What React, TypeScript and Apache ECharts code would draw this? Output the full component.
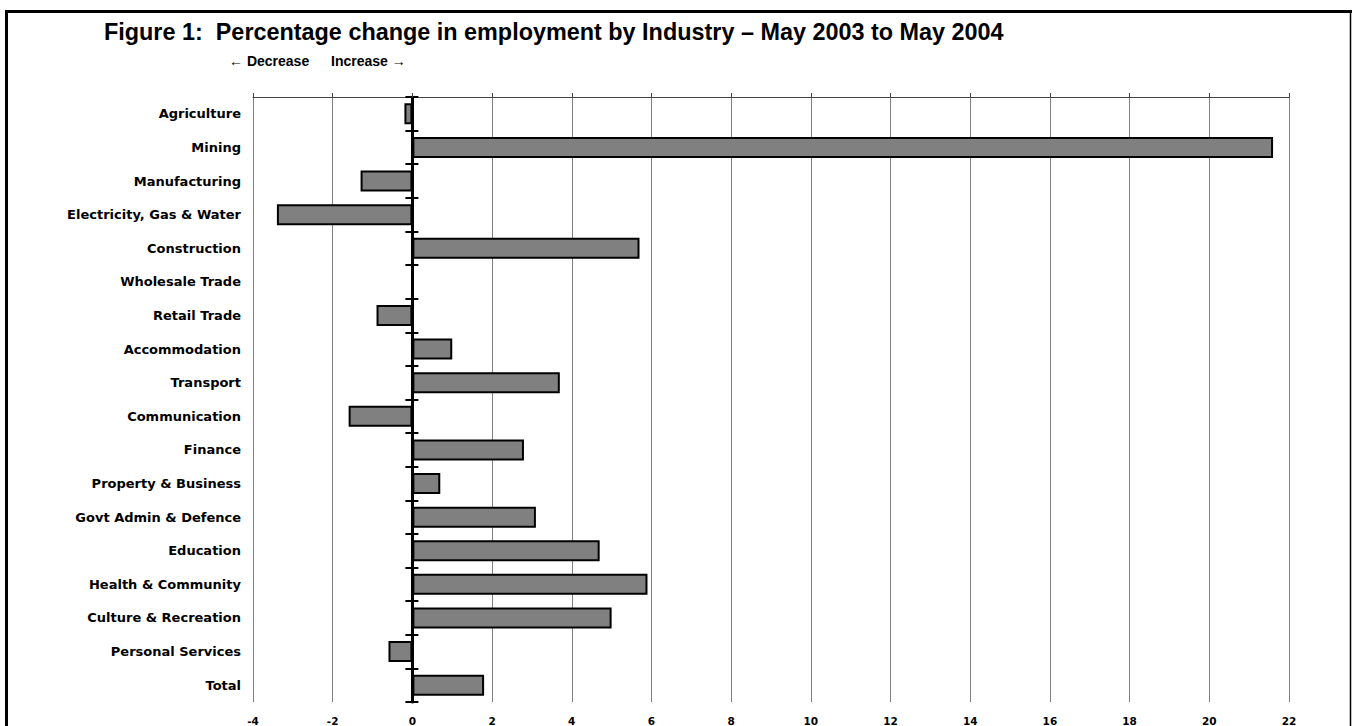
import React, { useEffect, useRef } from "react";
import * as echarts from "echarts";

const categories: string[] = [
  "Agriculture",
  "Mining",
  "Manufacturing",
  "Electricity, Gas & Water",
  "Construction",
  "Wholesale Trade",
  "Retail Trade",
  "Accommodation",
  "Transport",
  "Communication",
  "Finance",
  "Property & Business",
  "Govt Admin & Defence",
  "Education",
  "Health & Community",
  "Culture & Recreation",
  "Personal Services",
  "Total",
];

const changeValues: number[] = [
  -0.2, 21.6, -1.3, -3.4, 5.7, 0, -0.9, 1.0, 3.7, -1.6, 2.8, 0.7, 3.1, 4.7, 5.9, 5.0, -0.6, 1.8,
];

const xMin = -4;
const xMax = 22;
const xInterval = 2;

const titleText = "Figure 1:  Percentage change in employment by Industry \u2013 May 2003 to May 2004";
const decreaseText = "\u2190 Decrease";
const increaseText = "Increase \u2192";

const FONT = "'Liberation Sans', Arial, sans-serif";
const WIDE = "'DejaVu Sans', 'Liberation Sans', sans-serif";

export default function App() {
  const ref = useRef<HTMLDivElement>(null);

  useEffect(() => {
    if (!ref.current) return;
    const chart = echarts.init(ref.current, null, { renderer: "svg" });
    const option: any = {
      animation: false,
      backgroundColor: "#ffffff",
      textStyle: { fontFamily: FONT },
      title: [
        {
          text: titleText,
          left: 104,
          top: 20,
          padding: 0,
          textStyle: { fontFamily: FONT, fontSize: 23.4, fontWeight: "bold", color: "#000" },
        },
      ],
      graphic: [
        {
          type: "text",
          left: 229,
          top: 54,
          style: { text: decreaseText, font: `bold 14px ${FONT}`, fill: "#000" },
        },
        {
          type: "text",
          left: 331,
          top: 54,
          style: { text: increaseText, font: `bold 14px ${FONT}`, fill: "#000" },
        },
        {
          type: "line",
          shape: { x1: 6.5, y1: 11.5, x2: 1352, y2: 11.5 },
          style: { stroke: "#000", lineWidth: 3 },
        },
        {
          type: "line",
          shape: { x1: 6.5, y1: 10, x2: 6.5, y2: 726 },
          style: { stroke: "#000", lineWidth: 3 },
        },
        {
          type: "line",
          shape: { x1: 1350.5, y1: 10, x2: 1350.5, y2: 726 },
          style: { stroke: "#000", lineWidth: 1.5 },
        },
      ],
      grid: { left: 253, right: 63, top: 97, bottom: 23, containLabel: false },
      xAxis: [
        {
          type: "value",
          position: "bottom",
          min: xMin,
          max: xMax,
          interval: xInterval,
          axisLine: { show: false },
          axisTick: { show: false },
          splitLine: { show: true, lineStyle: { color: "#808080", width: 1 } },
          axisLabel: {
            show: true,
            margin: 13,
            fontSize: 10.5,
            fontWeight: "bold",
            color: "#000",
            fontFamily: WIDE,
          },
        },
        {
          type: "value",
          position: "top",
          min: xMin,
          max: xMax,
          interval: xInterval,
          axisLine: { show: true, lineStyle: { color: "#444", width: 1 } },
          axisTick: { show: true, inside: false, length: 4, lineStyle: { color: "#444", width: 1 } },
          splitLine: { show: false },
          axisLabel: { show: false },
        },
      ],
      yAxis: [
        {
          type: "category",
          data: categories,
          inverse: true,
          position: "left",
          axisLine: { show: true, onZero: true, onZeroAxisIndex: 0, lineStyle: { color: "#000", width: 3 } },
          axisTick: { show: true, inside: false, length: 7, lineStyle: { color: "#000", width: 2 } },
          axisLabel: { show: false },
          splitLine: { show: false },
        },
        {
          type: "category",
          data: categories,
          inverse: true,
          position: "left",
          axisLine: { show: false, onZero: true, onZeroAxisIndex: 0 },
          axisTick: { show: true, inside: true, length: 6, lineStyle: { color: "#000", width: 2 } },
          axisLabel: { show: false },
          splitLine: { show: false },
        },
        {
          type: "category",
          data: categories,
          inverse: true,
          position: "left",
          axisLine: { show: false, onZero: false },
          axisTick: { show: false },
          axisLabel: {
            show: true,
            margin: 12,
            fontSize: 13,
            fontWeight: "bold",
            color: "#000",
            fontFamily: WIDE,
          },
          splitLine: { show: false },
        },
      ],
      series: [
        {
          type: "bar",
          xAxisIndex: 0,
          yAxisIndex: 0,
          data: changeValues,
          barWidth: 21,
          itemStyle: { color: "#808080", borderColor: "#000", borderWidth: 2 },
          z: 3,
        },
      ],
    };
    chart.setOption(option);
    return () => chart.dispose();
  }, []);

  return (
    <div
      ref={ref}
      style={{ position: "fixed", left: 0, top: 0, width: 1352, height: 726, background: "#fff" }}
    />
  );
}
